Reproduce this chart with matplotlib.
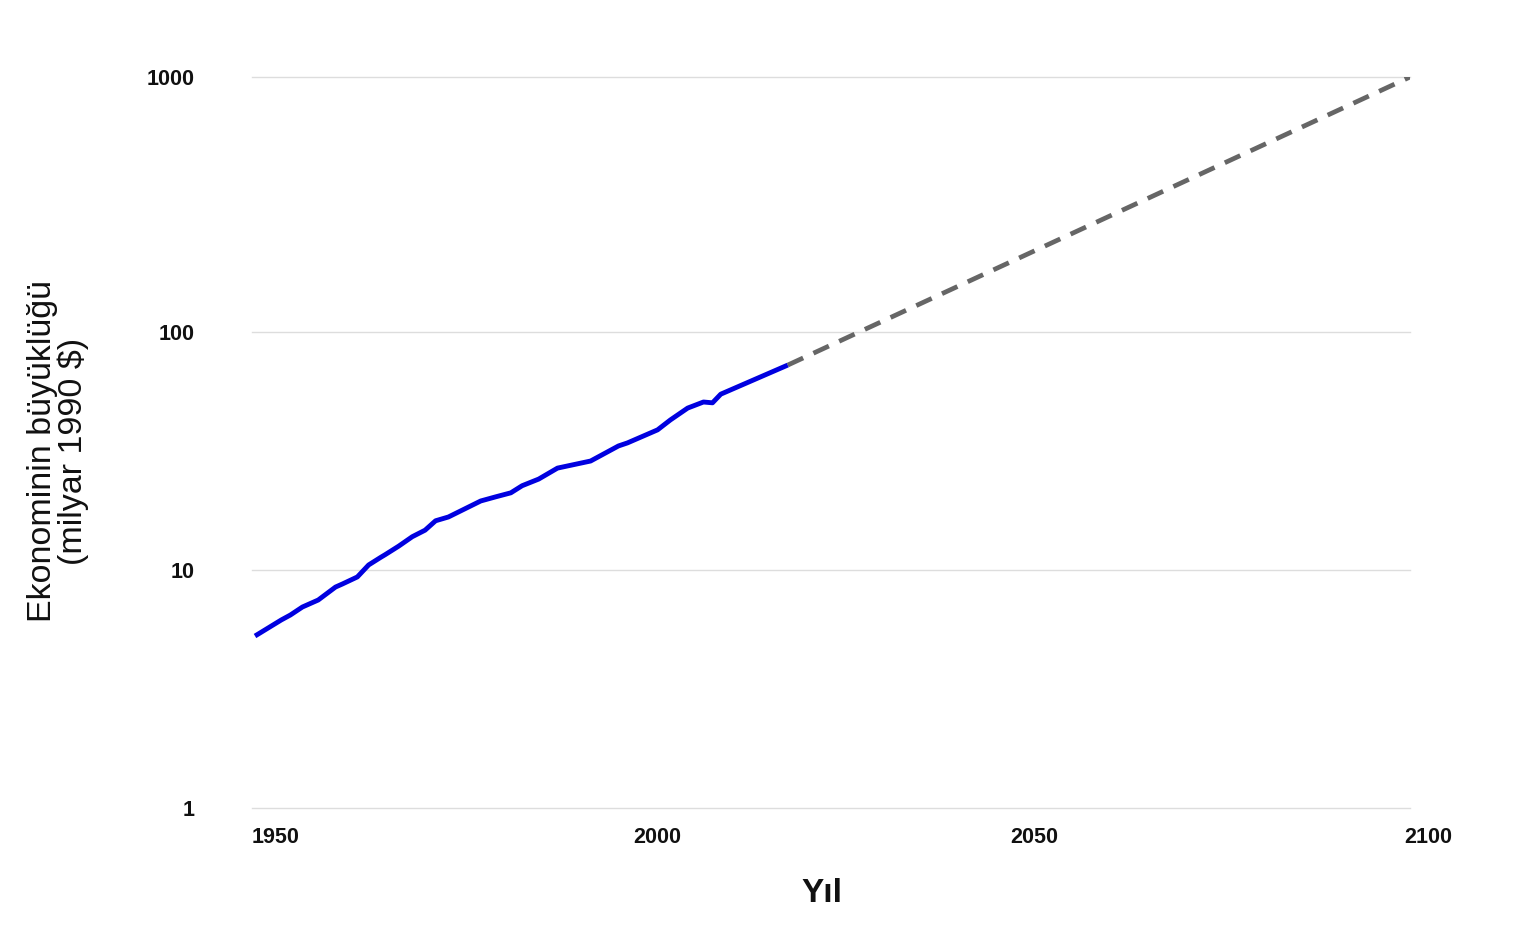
import numpy as np
import matplotlib
matplotlib.use('Agg')
import matplotlib.pyplot as plt
import matplotlib.transforms as mtransforms
from matplotlib.ticker import FixedLocator, NullLocator

plt.rcParams['font.family'] = ['Liberation Sans', 'DejaVu Sans']

# gecmis veri (okunan degerler)
years = [1946.5, 1950, 1951.2, 1952.8, 1954.9, 1957.2, 1958.1, 1960.1, 1961.6,
         1963.2, 1963.8, 1965.6, 1967.4, 1969.1, 1970.5, 1972.2, 1976.5,
         1978.5, 1980.5, 1982, 1984.2, 1986.7, 1991.1, 1994.8, 1996, 2000,
         2001.7, 2004, 2006.1, 2007.3, 2008.4, 2017.3]
gdp = [5.28, 6.17, 6.47, 6.99, 7.48, 8.48, 8.73, 9.35, 10.5, 11.3, 11.6,
       12.6, 13.8, 14.7, 16.1, 16.7, 19.5, 20.3, 21.1, 22.6, 24.1, 26.8,
       28.7, 33.2, 34.2, 38.8, 42.7, 47.9, 50.8, 50.4, 54.8, 72.6]

# projeksiyon
proj_years = [2017.3, 2100]
proj_gdp = [72.6, 1000]

yticks = [1, 10, 100, 1000]
xticks = [1950, 2000, 2050, 2100]

# orijinal grafikte on yillar esit aralikli degil
dec_log = [0, 1, 2, 3]
dec_pos = [0, 238, 476, 731]

def fwd(v):
    v = np.clip(np.asarray(v, dtype=float), 1e-3, None)
    return np.interp(np.log10(v), dec_log, dec_pos)

def inv(u):
    return 10 ** np.interp(u, dec_pos, dec_log)

fig = plt.figure(figsize=(15.18, 9.44), dpi=100)
ax = fig.add_axes([252/1518, 1-808/944, (1410-252)/1518, (808-77)/944])

ax.plot(proj_years, proj_gdp, color='#666666', lw=3.4, dashes=(3.6, 2.4),
        solid_capstyle='butt')
ax.plot(years, gdp, color='#0000e0', lw=3.5, solid_capstyle='butt')

ax.set_yscale('function', functions=(fwd, inv))
ax.set_ylim(1, 1000)
ax.set_xlim(1946.1, 2100)
ax.yaxis.set_major_locator(FixedLocator(yticks))
ax.yaxis.set_minor_locator(NullLocator())
ax.set_yticklabels([str(v) for v in yticks])
ax.set_xticks(xticks)
ax.set_xticklabels([str(v) for v in xticks])

ax.grid(axis='y', color='#dddddd', lw=1)
ax.set_axisbelow(True)
for gl in ax.get_ygridlines():
    gl.set_clip_on(False)
for s in ax.spines.values():
    s.set_visible(False)
ax.tick_params(axis='both', length=0, labelsize=15.5)
ax.tick_params(axis='y', pad=41)
ax.tick_params(axis='x', pad=14)
for lb in ax.get_xticklabels() + ax.get_yticklabels():
    lb.set_fontweight('bold')
    lb.set_color('#111111')

# kenar etiketleri biraz kaymis
xl = ax.get_xticklabels()
xl[0].set_transform(xl[0].get_transform() + mtransforms.ScaledTranslation(-6/100, 0, fig.dpi_scale_trans))
xl[-1].set_transform(xl[-1].get_transform() + mtransforms.ScaledTranslation(18/100, 0, fig.dpi_scale_trans))

fig.text(58/1518, 1-451/944, 'Ekonominin büyüklüğü\n(milyar 1990 $)',
         rotation=90, ha='center', va='center', multialignment='center',
         fontsize=24.5, color='#111111', linespacing=1.0)
fig.text(822/1518, 1-893/944, 'Yıl', ha='center', va='center',
         fontsize=24, fontweight='bold', color='#111111')

fig.savefig('out.png', dpi=100)
